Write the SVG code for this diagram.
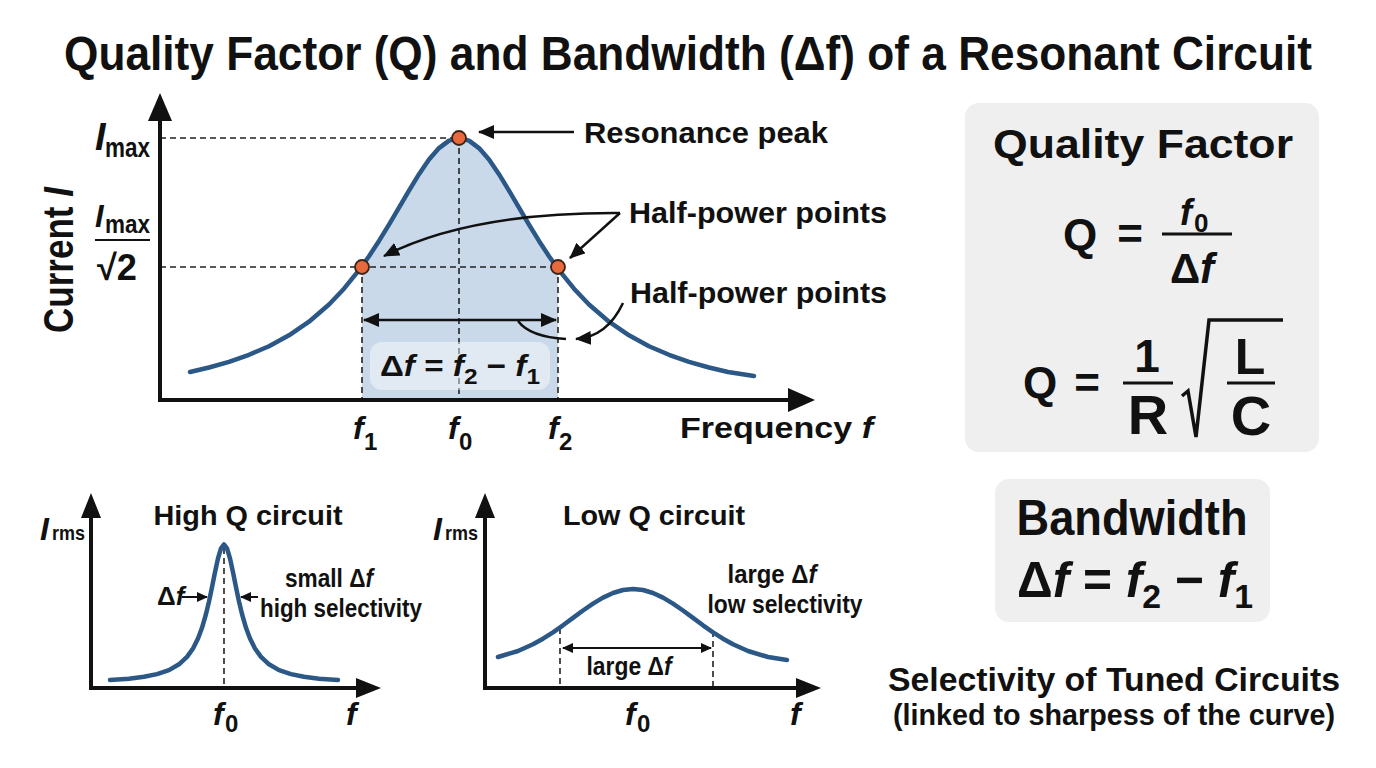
<svg xmlns="http://www.w3.org/2000/svg" width="1376" height="768" viewBox="0 0 1376 768">
<defs>
<style>
.t{font-family:"Liberation Sans Narrow","Liberation Sans",Arial,sans-serif;font-weight:bold;fill:#111}
.i{font-style:italic}
.axis{stroke:#111;stroke-width:4;fill:none}
.head{fill:#111}
.dash{stroke:#222;stroke-width:1.6;stroke-dasharray:6 4;fill:none}
.curve{stroke:#2b5887;stroke-width:4.5;fill:none;stroke-linejoin:round;stroke-linecap:round}
.ann{stroke:#111;stroke-width:2.5;fill:none}
.annS{stroke:#111;stroke-width:2;fill:none}
.dot{fill:#e8693c;stroke:#3a2418;stroke-width:1.8}
.box{fill:#efefef}
.rule{stroke:#111;stroke-width:3;fill:none}
</style>
<marker id="ah" markerUnits="userSpaceOnUse" markerWidth="16" markerHeight="14" refX="15" refY="7" orient="auto-start-reverse" viewBox="0 0 16 14"><path d="M0,0 L16,7 L0,14 z" fill="#111"/></marker>
<marker id="ahs" markerUnits="userSpaceOnUse" markerWidth="11" markerHeight="10" refX="10" refY="5" orient="auto-start-reverse" viewBox="0 0 11 10"><path d="M0,0 L11,5 L0,10 z" fill="#111"/></marker>
</defs>
<rect width="1376" height="768" fill="#ffffff"/>

<g id="title">
<text class="t" x="688" y="70" font-size="48" text-anchor="middle" textLength="1248" lengthAdjust="spacingAndGlyphs">Quality Factor (Q) and Bandwidth (Δf) of a Resonant Circuit</text>
</g>

<g id="main-chart">
<polygon fill="#c9d9e9" points="362,400 362,267 369,256.2 379,240.9 389,224.6 399,207.6 409,190.6 419,174.2 429,159.6 439,148.1 449,140.6 459,138 469,140.6 479,148.1 489,159.6 499,174.2 509,190.6 519,207.6 529,224.6 539,240.9 549,256.2 558,267 558,400"/>
<path class="dash" d="M160,138 H459 M160,267 H558 M362,267 V400 M459,138 V400 M558,267 V400"/>
<rect x="370" y="342" width="180" height="48" rx="12" fill="#ffffff" fill-opacity="0.45"/>
<polyline class="curve" points="190,372 209,367.5 229,361.8 249,354.8 269,346.2 289,335.3 309,321.7 329,304.5 344,288.7 359,270.2 369,256.2 379,240.9 389,224.6 399,207.6 409,190.6 419,174.2 429,159.6 439,148.1 449,140.6 459,138 469,140.6 479,148.1 489,159.6 499,174.2 509,190.6 519,207.6 529,224.6 539,240.9 549,256.2 559,270.2 574,288.7 589,304.5 609,321.7 629,335.3 649,346.2 669,354.8 689,361.8 709,367.5 728,372 754,376"/>
<path class="axis" d="M160,402 V112 M158,400 H792"/>
<polygon class="head" points="148,121 160,93 172,121"/>
<polygon class="head" points="788,388 815,400 788,412"/>
</g>

<g id="connectors">
<path class="ann" d="M574,132 H479" marker-end="url(#ah)"/>
<path class="ann" d="M620,213 Q470,212 384,256" marker-end="url(#ah)"/>
<path class="ann" d="M620,213 L570,258" marker-end="url(#ah)"/>
<path class="ann" d="M364,320 H556" marker-start="url(#ah)" marker-end="url(#ah)"/>
<path class="ann" d="M518,321 Q530,337 566,339"/>
<path class="ann" d="M623,303 Q607,337 576,339" marker-end="url(#ah)"/>
<path class="annS" d="M182,597 H207" marker-end="url(#ahs)"/>
<path class="annS" d="M258,597 H241" marker-end="url(#ahs)"/>
<path class="annS" d="M563,648 H711" marker-start="url(#ahs)" marker-end="url(#ahs)"/>
</g>

<g id="points">
<circle class="dot" cx="459" cy="138" r="7"/>
<circle class="dot" cx="362" cy="267" r="7"/>
<circle class="dot" cx="558" cy="267" r="7"/>
</g>

<g id="y-label">
<text class="t" transform="translate(73,260) rotate(-90)" font-size="42" text-anchor="middle" textLength="146" lengthAdjust="spacingAndGlyphs">Current <tspan class="i">I</tspan></text>
<text class="t i" x="95" y="150" font-size="38">I</text>
<text class="t" x="105" y="157" font-size="28" textLength="45" lengthAdjust="spacingAndGlyphs">max</text>
<text class="t i" x="95" y="227" font-size="31">I</text>
<text class="t" x="105" y="233" font-size="26" textLength="45" lengthAdjust="spacingAndGlyphs">max</text>
<line class="rule" x1="95" y1="240" x2="150" y2="240" style="stroke-width:2"/>
<text class="t" x="97" y="280" font-size="36" textLength="40" lengthAdjust="spacingAndGlyphs">√2</text>
</g>

<g id="label-resonance-peak">
<text class="t" x="584" y="143" font-size="29" textLength="244" lengthAdjust="spacingAndGlyphs">Resonance peak</text>
</g>
<g id="label-half-power-1">
<text class="t" x="629" y="223" font-size="29" textLength="258" lengthAdjust="spacingAndGlyphs">Half-power points</text>
</g>
<g id="label-half-power-2">
<text class="t" x="630" y="303" font-size="29" textLength="257" lengthAdjust="spacingAndGlyphs">Half-power points</text>
</g>
<g id="label-bandwidth-box">
<text class="t" x="380" y="376" font-size="30" textLength="160" lengthAdjust="spacingAndGlyphs">Δ<tspan class="i">f</tspan> = <tspan class="i">f</tspan><tspan font-size="22" dy="8">2</tspan><tspan dy="-8"> − </tspan><tspan class="i">f</tspan><tspan font-size="22" dy="8">1</tspan></text>
</g>
<g id="x-ticks">
<text class="t i" x="353" y="439" font-size="32">f</text>
<text class="t" x="364" y="450" font-size="24">1</text>
<text class="t i" x="448" y="439" font-size="32">f</text>
<text class="t" x="459" y="450" font-size="24">0</text>
<text class="t i" x="548" y="439" font-size="32">f</text>
<text class="t" x="559" y="450" font-size="24">2</text>
<text class="t" x="680" y="438" font-size="30" textLength="193" lengthAdjust="spacingAndGlyphs">Frequency <tspan class="i">f</tspan></text>
</g>

<g id="quality-factor-box">
<rect class="box" x="965" y="103" width="354" height="349" rx="14"/>
<text class="t" x="1143" y="158" font-size="40" text-anchor="middle" textLength="300" lengthAdjust="spacingAndGlyphs">Quality Factor</text>
<text class="t" x="1080" y="250" font-size="44" text-anchor="middle">Q</text>
<text class="t" x="1130" y="249" font-size="44" text-anchor="middle">=</text>
<text class="t i" x="1180" y="225" font-size="36">f</text>
<text class="t" x="1194" y="232" font-size="26">0</text>
<line class="rule" x1="1162" y1="234" x2="1232" y2="234"/>
<text class="t" x="1192" y="283" font-size="42" text-anchor="middle">Δ<tspan class="i">f</tspan></text>
<text class="t" x="1040" y="398" font-size="44" text-anchor="middle">Q</text>
<text class="t" x="1087" y="398" font-size="44" text-anchor="middle">=</text>
<text class="t" x="1147" y="372" font-size="46" text-anchor="middle">1</text>
<line class="rule" x1="1123" y1="383" x2="1173" y2="383"/>
<text class="t" x="1148" y="434" font-size="56" text-anchor="middle">R</text>
<polyline points="1182,396 1188,391 1196,437 1209,320 1283,320" fill="none" stroke="#111" stroke-width="3.5" stroke-linejoin="miter"/>
<text class="t" x="1250" y="374" font-size="50" text-anchor="middle">L</text>
<line class="rule" x1="1227" y1="383" x2="1275" y2="383"/>
<text class="t" x="1251" y="435" font-size="56" text-anchor="middle">C</text>
</g>

<g id="bandwidth-box">
<rect class="box" x="995" y="479" width="275" height="143" rx="14"/>
<text class="t" x="1132" y="535" font-size="50" text-anchor="middle" textLength="231" lengthAdjust="spacingAndGlyphs">Bandwidth</text>
<text class="t" x="1017" y="597" font-size="50" textLength="236" lengthAdjust="spacingAndGlyphs">Δ<tspan class="i">f</tspan> = <tspan class="i">f</tspan><tspan font-size="34" dy="11">2</tspan><tspan dy="-11"> − </tspan><tspan class="i">f</tspan><tspan font-size="34" dy="11">1</tspan></text>
</g>

<g id="selectivity-caption">
<text class="t" x="1114" y="691" font-size="34" text-anchor="middle" textLength="452" lengthAdjust="spacingAndGlyphs">Selectivity of Tuned Circuits</text>
<text class="t" x="1114" y="725" font-size="30" text-anchor="middle" textLength="442" lengthAdjust="spacingAndGlyphs">(linked to sharpess of the curve)</text>
</g>

<g id="high-q-chart">
<path class="dash" d="M224,548 V688"/>
<polyline class="curve" points="110,680.1 129,678.7 144,676.8 157,674.1 169,670.1 179,664.3 187,656.9 193,648.5 198,638.5 202,627.8 206,614 209,601.5 212,587.2 215,572.3 218,558.4 221,548.3 224,544.5 227,548.3 230,558.4 233,572.3 236,587.2 239,601.5 242,614 246,627.8 250,638.5 255,648.5 261,656.9 269,664.3 279,670.1 291,674.1 304,676.8 319,678.7 338,680.1"/>
<path class="axis" d="M91,690 V510 M89,688 H362"/>
<polygon class="head" points="81,518 91,493 101,518"/>
<polygon class="head" points="356,678 381,688 356,698"/>
<text class="t" x="248" y="525" font-size="28" text-anchor="middle" textLength="189" lengthAdjust="spacingAndGlyphs">High Q circuit</text>
<text class="t i" x="40" y="540" font-size="32">I</text>
<text class="t" x="52" y="540" font-size="21" textLength="33" lengthAdjust="spacingAndGlyphs">rms</text>
<text class="t" x="157" y="605" font-size="26">Δ<tspan class="i">f</tspan></text>
<text class="t" x="329" y="587" font-size="26" text-anchor="middle" textLength="88" lengthAdjust="spacingAndGlyphs">small Δ<tspan class="i">f</tspan></text>
<text class="t" x="341" y="617" font-size="26" text-anchor="middle" textLength="162" lengthAdjust="spacingAndGlyphs">high selectivity</text>
<text class="t i" x="213" y="725" font-size="32">f</text>
<text class="t" x="225" y="732" font-size="24">0</text>
<text class="t i" x="346" y="725" font-size="32">f</text>
</g>

<g id="low-q-chart">
<path class="dash" d="M560,628 V688 M713,631 V688"/>
<polyline class="curve" points="498,657 518,651 533,644.3 543,638.7 553,632.3 563,625.3 573,617.9 583,610.5 593,603.6 603,597.6 613,593 623,590 633,589 643,590 653,593 663,597.6 673,603.6 683,610.5 693,617.9 703,625.3 713,632.3 723,638.7 733,644.3 748,651 768,657 787,660"/>
<path class="axis" d="M485,690 V510 M483,688 H802"/>
<polygon class="head" points="475,518 485,493 495,518"/>
<polygon class="head" points="796,678 821,688 796,698"/>
<text class="t" x="654" y="525" font-size="28" text-anchor="middle" textLength="182" lengthAdjust="spacingAndGlyphs">Low Q circuit</text>
<text class="t i" x="433" y="540" font-size="32">I</text>
<text class="t" x="445" y="540" font-size="21" textLength="33" lengthAdjust="spacingAndGlyphs">rms</text>
<text class="t" x="772" y="583" font-size="26" text-anchor="middle" textLength="89" lengthAdjust="spacingAndGlyphs">large Δ<tspan class="i">f</tspan></text>
<text class="t" x="785" y="613" font-size="26" text-anchor="middle" textLength="155" lengthAdjust="spacingAndGlyphs">low selectivity</text>
<text class="t" x="629" y="675" font-size="26" text-anchor="middle" textLength="85" lengthAdjust="spacingAndGlyphs">large Δ<tspan class="i">f</tspan></text>
<text class="t i" x="625" y="725" font-size="32">f</text>
<text class="t" x="637" y="732" font-size="24">0</text>
<text class="t i" x="790" y="725" font-size="32">f</text>
</g>
</svg>
